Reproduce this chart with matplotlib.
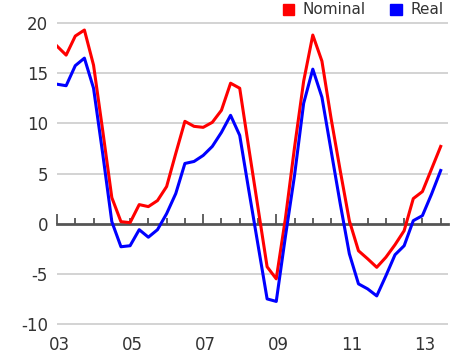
import matplotlib
matplotlib.use("Agg")
import matplotlib.pyplot as plt
from matplotlib.patches import Patch
import pandas as pd
import numpy as np

# Quarterly series, 2003Q1 - 2013Q3 (annual % change)
quarters = pd.period_range("2003Q1", "2013Q3", freq="Q")
nominal = [17.7, 16.8, 18.7, 19.3, 15.8, 9.3, 2.6, 0.2, 0.1, 1.9,
           1.7, 2.3, 3.7, 7.0, 10.2, 9.7, 9.6, 10.1, 11.3, 14.0,
           13.5, 7.5, 1.6, -4.3, -5.5, 0.5, 7.6, 14.2, 18.8, 16.2,
           10.5, 5.3, 0.3, -2.7, -3.5, -4.35, -3.35, -2.1, -0.7, 2.5,
           3.2, 5.45, 7.7]
real = [13.9, 13.75, 15.75, 16.5, 13.5, 7.0, 0.2, -2.3, -2.2, -0.6,
        -1.35, -0.6, 1.0, 3.0, 6.0, 6.2, 6.8, 7.7, 9.1, 10.8,
        8.8, 3.3, -2.1, -7.5, -7.75, -1.3, 4.8, 12.0, 15.4, 12.6,
        7.3, 2.0, -3.0, -6.0, -6.5, -7.2, -5.2, -3.1, -2.2, 0.3,
        0.8, 2.95, 5.3]
year_labels = ["03", "05", "07", "09", "11", "13"]
label_years = [2003, 2005, 2007, 2009, 2011, 2013]
yticks = [-10, -5, 0, 5, 10, 15, 20]

x = quarters.year + (quarters.quarter - 1) / 4.0

txt = "#333333"
grid_col = "#c8c8c8"
axis_col = "#555555"

fig = plt.figure(figsize=(4.74, 3.57), dpi=100)
ax = fig.add_axes([57/474, 1 - 326/357, (448 - 57)/474, 305/357])

ax.set_xlim(2003.0, 2013.70)
ax.set_ylim(-10.2, 20.2)

# horizontal gridlines (zero line is the axis itself)
for v in yticks:
    if v != 0:
        ax.axhline(v, color=grid_col, lw=1.1, zorder=1)

ax.plot(x, nominal, color="#ff0000", lw=2.2, label="Nominal", zorder=3)
ax.plot(x, real, color="#0000ff", lw=2.2, label="Real", zorder=3)

for s in ["top", "right", "left"]:
    ax.spines[s].set_visible(False)
ax.spines["bottom"].set_position(("data", 0))
ax.spines["bottom"].set_color(axis_col)
ax.spines["bottom"].set_linewidth(2.0)
ax.spines["bottom"].set_zorder(2)

ax.set_xticks([2003, 2007, 2009])
ax.set_xticks(np.arange(2003, 2013.6, 0.5), minor=True)
ax.tick_params(axis="x", which="both", direction="in", color=axis_col,
               width=1.3, labelbottom=False)
ax.tick_params(axis="x", which="major", length=7.0)
ax.tick_params(axis="x", which="minor", length=4.2)

ax.set_yticks(yticks)
ax.set_yticklabels([str(v) for v in yticks])
ax.tick_params(axis="y", length=0, pad=6.5, labelsize=12, labelcolor=txt)

for yr, lab in zip(label_years, year_labels):
    ax.text(yr + 0.06, -0.062, lab, transform=ax.get_xaxis_transform(),
            ha="center", va="center", fontsize=12, color=txt)

handles = [Patch(color="#ff0000"), Patch(color="#0000ff")]
fig.legend(handles, ["Nominal", "Real"], loc="center right",
           bbox_to_anchor=(0.935, 0.972), ncol=2, frameon=False,
           fontsize=11, labelcolor=txt, handlelength=0.75, handleheight=0.75,
           handletextpad=0.55, columnspacing=1.6, borderpad=0, borderaxespad=0)

fig.savefig("out.png", dpi=100, facecolor="white")
